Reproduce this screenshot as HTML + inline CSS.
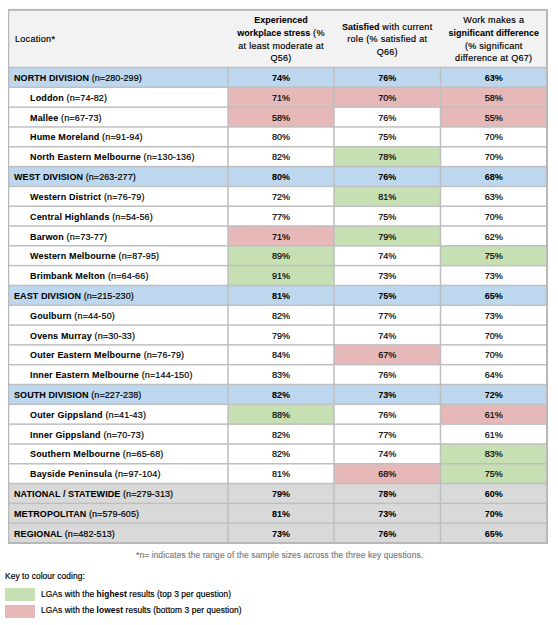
<!DOCTYPE html><html><head><meta charset="utf-8"><style>html,body{margin:0;padding:0;background:#fff;width:558px;height:625px;overflow:hidden}
body{position:relative;font-family:"Liberation Sans",sans-serif;color:#000}
.t{-webkit-text-stroke:0.18px #000}
.t b{-webkit-text-stroke:0.05px #000}
svg{position:absolute;left:0;top:0}
.t{position:absolute;white-space:nowrap;font-size:9px;line-height:12px}
.c{text-align:center}
b{font-weight:bold}
.r{letter-spacing:0.3px}
.r b{letter-spacing:0}
.ft{position:absolute;white-space:nowrap;color:#7a7a7a;font-size:8.4px;line-height:10px;letter-spacing:0.12px;-webkit-text-stroke:0.15px #7a7a7a}
.lg{position:absolute;white-space:nowrap;font-size:8.4px;line-height:12px;color:#000;letter-spacing:0.08px;-webkit-text-stroke:0.18px #000}
.lg b{-webkit-text-stroke:0}
</style></head><body><svg width="558" height="625" viewBox="0 0 558 625"><rect x="8.5" y="10" width="538.5" height="57.5" fill="#f2f2f2"/><rect x="8.5" y="67.500" width="219.5" height="19.812" fill="#bdd7ee"/><rect x="228" y="67.500" width="106" height="19.812" fill="#bdd7ee"/><rect x="334" y="67.500" width="106.5" height="19.812" fill="#bdd7ee"/><rect x="440.5" y="67.500" width="106.5" height="19.812" fill="#bdd7ee"/><rect x="8.5" y="87.312" width="219.5" height="19.812" fill="#ffffff"/><rect x="228" y="87.312" width="106" height="19.812" fill="#e6b8b7"/><rect x="334" y="87.312" width="106.5" height="19.812" fill="#e6b8b7"/><rect x="440.5" y="87.312" width="106.5" height="19.812" fill="#e6b8b7"/><rect x="8.5" y="107.125" width="219.5" height="19.812" fill="#ffffff"/><rect x="228" y="107.125" width="106" height="19.812" fill="#e6b8b7"/><rect x="334" y="107.125" width="106.5" height="19.812" fill="#ffffff"/><rect x="440.5" y="107.125" width="106.5" height="19.812" fill="#e6b8b7"/><rect x="8.5" y="126.938" width="219.5" height="19.812" fill="#ffffff"/><rect x="228" y="126.938" width="106" height="19.812" fill="#ffffff"/><rect x="334" y="126.938" width="106.5" height="19.812" fill="#ffffff"/><rect x="440.5" y="126.938" width="106.5" height="19.812" fill="#ffffff"/><rect x="8.5" y="146.750" width="219.5" height="19.812" fill="#ffffff"/><rect x="228" y="146.750" width="106" height="19.812" fill="#ffffff"/><rect x="334" y="146.750" width="106.5" height="19.812" fill="#c6e0b4"/><rect x="440.5" y="146.750" width="106.5" height="19.812" fill="#ffffff"/><rect x="8.5" y="166.562" width="219.5" height="19.812" fill="#bdd7ee"/><rect x="228" y="166.562" width="106" height="19.812" fill="#bdd7ee"/><rect x="334" y="166.562" width="106.5" height="19.812" fill="#bdd7ee"/><rect x="440.5" y="166.562" width="106.5" height="19.812" fill="#bdd7ee"/><rect x="8.5" y="186.375" width="219.5" height="19.812" fill="#ffffff"/><rect x="228" y="186.375" width="106" height="19.812" fill="#ffffff"/><rect x="334" y="186.375" width="106.5" height="19.812" fill="#c6e0b4"/><rect x="440.5" y="186.375" width="106.5" height="19.812" fill="#ffffff"/><rect x="8.5" y="206.188" width="219.5" height="19.812" fill="#ffffff"/><rect x="228" y="206.188" width="106" height="19.812" fill="#ffffff"/><rect x="334" y="206.188" width="106.5" height="19.812" fill="#ffffff"/><rect x="440.5" y="206.188" width="106.5" height="19.812" fill="#ffffff"/><rect x="8.5" y="226.000" width="219.5" height="19.812" fill="#ffffff"/><rect x="228" y="226.000" width="106" height="19.812" fill="#e6b8b7"/><rect x="334" y="226.000" width="106.5" height="19.812" fill="#c6e0b4"/><rect x="440.5" y="226.000" width="106.5" height="19.812" fill="#ffffff"/><rect x="8.5" y="245.812" width="219.5" height="19.812" fill="#ffffff"/><rect x="228" y="245.812" width="106" height="19.812" fill="#c6e0b4"/><rect x="334" y="245.812" width="106.5" height="19.812" fill="#ffffff"/><rect x="440.5" y="245.812" width="106.5" height="19.812" fill="#c6e0b4"/><rect x="8.5" y="265.625" width="219.5" height="19.812" fill="#ffffff"/><rect x="228" y="265.625" width="106" height="19.812" fill="#c6e0b4"/><rect x="334" y="265.625" width="106.5" height="19.812" fill="#ffffff"/><rect x="440.5" y="265.625" width="106.5" height="19.812" fill="#ffffff"/><rect x="8.5" y="285.438" width="219.5" height="19.812" fill="#bdd7ee"/><rect x="228" y="285.438" width="106" height="19.812" fill="#bdd7ee"/><rect x="334" y="285.438" width="106.5" height="19.812" fill="#bdd7ee"/><rect x="440.5" y="285.438" width="106.5" height="19.812" fill="#bdd7ee"/><rect x="8.5" y="305.250" width="219.5" height="19.812" fill="#ffffff"/><rect x="228" y="305.250" width="106" height="19.812" fill="#ffffff"/><rect x="334" y="305.250" width="106.5" height="19.812" fill="#ffffff"/><rect x="440.5" y="305.250" width="106.5" height="19.812" fill="#ffffff"/><rect x="8.5" y="325.062" width="219.5" height="19.812" fill="#ffffff"/><rect x="228" y="325.062" width="106" height="19.812" fill="#ffffff"/><rect x="334" y="325.062" width="106.5" height="19.812" fill="#ffffff"/><rect x="440.5" y="325.062" width="106.5" height="19.812" fill="#ffffff"/><rect x="8.5" y="344.875" width="219.5" height="19.812" fill="#ffffff"/><rect x="228" y="344.875" width="106" height="19.812" fill="#ffffff"/><rect x="334" y="344.875" width="106.5" height="19.812" fill="#e6b8b7"/><rect x="440.5" y="344.875" width="106.5" height="19.812" fill="#ffffff"/><rect x="8.5" y="364.688" width="219.5" height="19.812" fill="#ffffff"/><rect x="228" y="364.688" width="106" height="19.812" fill="#ffffff"/><rect x="334" y="364.688" width="106.5" height="19.812" fill="#ffffff"/><rect x="440.5" y="364.688" width="106.5" height="19.812" fill="#ffffff"/><rect x="8.5" y="384.500" width="219.5" height="19.812" fill="#bdd7ee"/><rect x="228" y="384.500" width="106" height="19.812" fill="#bdd7ee"/><rect x="334" y="384.500" width="106.5" height="19.812" fill="#bdd7ee"/><rect x="440.5" y="384.500" width="106.5" height="19.812" fill="#bdd7ee"/><rect x="8.5" y="404.312" width="219.5" height="19.812" fill="#ffffff"/><rect x="228" y="404.312" width="106" height="19.812" fill="#c6e0b4"/><rect x="334" y="404.312" width="106.5" height="19.812" fill="#ffffff"/><rect x="440.5" y="404.312" width="106.5" height="19.812" fill="#e6b8b7"/><rect x="8.5" y="424.125" width="219.5" height="19.812" fill="#ffffff"/><rect x="228" y="424.125" width="106" height="19.812" fill="#ffffff"/><rect x="334" y="424.125" width="106.5" height="19.812" fill="#ffffff"/><rect x="440.5" y="424.125" width="106.5" height="19.812" fill="#ffffff"/><rect x="8.5" y="443.938" width="219.5" height="19.812" fill="#ffffff"/><rect x="228" y="443.938" width="106" height="19.812" fill="#ffffff"/><rect x="334" y="443.938" width="106.5" height="19.812" fill="#ffffff"/><rect x="440.5" y="443.938" width="106.5" height="19.812" fill="#c6e0b4"/><rect x="8.5" y="463.750" width="219.5" height="19.812" fill="#ffffff"/><rect x="228" y="463.750" width="106" height="19.812" fill="#ffffff"/><rect x="334" y="463.750" width="106.5" height="19.812" fill="#e6b8b7"/><rect x="440.5" y="463.750" width="106.5" height="19.812" fill="#c6e0b4"/><rect x="8.5" y="483.562" width="219.5" height="19.812" fill="#d9d9d9"/><rect x="228" y="483.562" width="106" height="19.812" fill="#d9d9d9"/><rect x="334" y="483.562" width="106.5" height="19.812" fill="#d9d9d9"/><rect x="440.5" y="483.562" width="106.5" height="19.812" fill="#d9d9d9"/><rect x="8.5" y="503.375" width="219.5" height="19.812" fill="#d9d9d9"/><rect x="228" y="503.375" width="106" height="19.812" fill="#d9d9d9"/><rect x="334" y="503.375" width="106.5" height="19.812" fill="#d9d9d9"/><rect x="440.5" y="503.375" width="106.5" height="19.812" fill="#d9d9d9"/><rect x="8.5" y="523.188" width="219.5" height="19.812" fill="#d9d9d9"/><rect x="228" y="523.188" width="106" height="19.812" fill="#d9d9d9"/><rect x="334" y="523.188" width="106.5" height="19.812" fill="#d9d9d9"/><rect x="440.5" y="523.188" width="106.5" height="19.812" fill="#d9d9d9"/><rect x="8.5" y="66.750" width="538.5" height="1.5" fill="#bfbfbf"/><rect x="8.5" y="86.562" width="538.5" height="1.5" fill="#bfbfbf"/><rect x="8.5" y="106.375" width="538.5" height="1.5" fill="#bfbfbf"/><rect x="8.5" y="126.188" width="538.5" height="1.5" fill="#bfbfbf"/><rect x="8.5" y="146.000" width="538.5" height="1.5" fill="#bfbfbf"/><rect x="8.5" y="165.812" width="538.5" height="1.5" fill="#bfbfbf"/><rect x="8.5" y="185.625" width="538.5" height="1.5" fill="#bfbfbf"/><rect x="8.5" y="205.438" width="538.5" height="1.5" fill="#bfbfbf"/><rect x="8.5" y="225.250" width="538.5" height="1.5" fill="#bfbfbf"/><rect x="8.5" y="245.062" width="538.5" height="1.5" fill="#bfbfbf"/><rect x="8.5" y="264.875" width="538.5" height="1.5" fill="#bfbfbf"/><rect x="8.5" y="284.688" width="538.5" height="1.5" fill="#bfbfbf"/><rect x="8.5" y="304.500" width="538.5" height="1.5" fill="#bfbfbf"/><rect x="8.5" y="324.312" width="538.5" height="1.5" fill="#bfbfbf"/><rect x="8.5" y="344.125" width="538.5" height="1.5" fill="#bfbfbf"/><rect x="8.5" y="363.938" width="538.5" height="1.5" fill="#bfbfbf"/><rect x="8.5" y="383.750" width="538.5" height="1.5" fill="#bfbfbf"/><rect x="8.5" y="403.562" width="538.5" height="1.5" fill="#bfbfbf"/><rect x="8.5" y="423.375" width="538.5" height="1.5" fill="#bfbfbf"/><rect x="8.5" y="443.188" width="538.5" height="1.5" fill="#bfbfbf"/><rect x="8.5" y="463.000" width="538.5" height="1.5" fill="#bfbfbf"/><rect x="8.5" y="482.812" width="538.5" height="1.5" fill="#bfbfbf"/><rect x="8.5" y="502.625" width="538.5" height="1.5" fill="#bfbfbf"/><rect x="8.5" y="522.438" width="538.5" height="1.5" fill="#bfbfbf"/><rect x="227.250" y="67.500" width="1.5" height="475.500" fill="#bfbfbf"/><rect x="333.250" y="67.500" width="1.5" height="475.500" fill="#bfbfbf"/><rect x="439.750" y="67.500" width="1.5" height="475.500" fill="#bfbfbf"/><rect x="8" y="8.9" width="540" height="2" fill="#b8b8b8"/><rect x="8" y="542" width="540" height="2" fill="#b8b8b8"/><rect x="8" y="9" width="1.25" height="535" fill="#b8b8b8"/><rect x="546" y="9" width="2" height="535" fill="#b8b8b8"/></svg><div class="t r" style="left:15px;top:33px">Location*</div><div class="t c r" style="left:228.0px;width:106.0px;top:14px"><b>Experienced</b></div><div class="t c r" style="left:228.0px;width:106.0px;top:26.67px"><b>workplace stress</b> (%</div><div class="t c r" style="left:228.0px;width:106.0px;top:40px">at least moderate at</div><div class="t c r" style="left:228.0px;width:106.0px;top:52px">Q56)</div><div class="t c r" style="left:334.0px;width:106.5px;top:20.5px"><b>Satisfied</b> with current</div><div class="t c r" style="left:334.0px;width:106.5px;top:32.5px">role (% satisfied at</div><div class="t c r" style="left:334.0px;width:106.5px;top:45.5px">Q66)</div><div class="t c r" style="left:440.5px;width:106.5px;top:14px">Work makes a</div><div class="t c r" style="left:440.5px;width:106.5px;top:26.67px"><b>significant difference</b></div><div class="t c r" style="left:440.5px;width:106.5px;top:40px">(% significant</div><div class="t c r" style="left:440.5px;width:106.5px;top:52px">difference at Q67)</div><div class="t" style="left:14px;top:72.00px;letter-spacing:0.08px"><b>NORTH DIVISION</b> (n=280-299)</div><div class="t c" style="left:228.0px;width:106.0px;top:72.00px"><b>74%</b></div><div class="t c" style="left:334.0px;width:106.5px;top:72.00px"><b>76%</b></div><div class="t c" style="left:440.5px;width:106.5px;top:72.00px"><b>63%</b></div><div class="t" style="left:30px;top:91.81px;letter-spacing:0.15px"><b>Loddon</b> (n=74-82)</div><div class="t c" style="left:228.0px;width:106.0px;top:91.81px">71%</div><div class="t c" style="left:334.0px;width:106.5px;top:91.81px">70%</div><div class="t c" style="left:440.5px;width:106.5px;top:91.81px">58%</div><div class="t" style="left:30px;top:111.62px;letter-spacing:0.15px"><b>Mallee</b> (n=67-73)</div><div class="t c" style="left:228.0px;width:106.0px;top:111.62px">58%</div><div class="t c" style="left:334.0px;width:106.5px;top:111.62px">76%</div><div class="t c" style="left:440.5px;width:106.5px;top:111.62px">55%</div><div class="t" style="left:30px;top:131.44px;letter-spacing:0.15px"><b>Hume Moreland</b> (n=91-94)</div><div class="t c" style="left:228.0px;width:106.0px;top:131.44px">80%</div><div class="t c" style="left:334.0px;width:106.5px;top:131.44px">75%</div><div class="t c" style="left:440.5px;width:106.5px;top:131.44px">70%</div><div class="t" style="left:30px;top:151.25px;letter-spacing:0.15px"><b>North Eastern Melbourne</b> (n=130-136)</div><div class="t c" style="left:228.0px;width:106.0px;top:151.25px">82%</div><div class="t c" style="left:334.0px;width:106.5px;top:151.25px">78%</div><div class="t c" style="left:440.5px;width:106.5px;top:151.25px">70%</div><div class="t" style="left:14px;top:171.06px;letter-spacing:0.08px"><b>WEST DIVISION</b> (n=263-277)</div><div class="t c" style="left:228.0px;width:106.0px;top:171.06px"><b>80%</b></div><div class="t c" style="left:334.0px;width:106.5px;top:171.06px"><b>76%</b></div><div class="t c" style="left:440.5px;width:106.5px;top:171.06px"><b>68%</b></div><div class="t" style="left:30px;top:190.88px;letter-spacing:0.15px"><b>Western District</b> (n=76-79)</div><div class="t c" style="left:228.0px;width:106.0px;top:190.88px">72%</div><div class="t c" style="left:334.0px;width:106.5px;top:190.88px">81%</div><div class="t c" style="left:440.5px;width:106.5px;top:190.88px">63%</div><div class="t" style="left:30px;top:210.69px;letter-spacing:0.15px"><b>Central Highlands</b> (n=54-56)</div><div class="t c" style="left:228.0px;width:106.0px;top:210.69px">77%</div><div class="t c" style="left:334.0px;width:106.5px;top:210.69px">75%</div><div class="t c" style="left:440.5px;width:106.5px;top:210.69px">70%</div><div class="t" style="left:30px;top:230.50px;letter-spacing:0.15px"><b>Barwon</b> (n=73-77)</div><div class="t c" style="left:228.0px;width:106.0px;top:230.50px">71%</div><div class="t c" style="left:334.0px;width:106.5px;top:230.50px">79%</div><div class="t c" style="left:440.5px;width:106.5px;top:230.50px">62%</div><div class="t" style="left:30px;top:250.31px;letter-spacing:0.15px"><b>Western Melbourne</b> (n=87-95)</div><div class="t c" style="left:228.0px;width:106.0px;top:250.31px">89%</div><div class="t c" style="left:334.0px;width:106.5px;top:250.31px">74%</div><div class="t c" style="left:440.5px;width:106.5px;top:250.31px">75%</div><div class="t" style="left:30px;top:270.12px;letter-spacing:0.15px"><b>Brimbank Melton</b> (n=64-66)</div><div class="t c" style="left:228.0px;width:106.0px;top:270.12px">91%</div><div class="t c" style="left:334.0px;width:106.5px;top:270.12px">73%</div><div class="t c" style="left:440.5px;width:106.5px;top:270.12px">73%</div><div class="t" style="left:14px;top:289.94px;letter-spacing:0.08px"><b>EAST DIVISION</b> (n=215-230)</div><div class="t c" style="left:228.0px;width:106.0px;top:289.94px"><b>81%</b></div><div class="t c" style="left:334.0px;width:106.5px;top:289.94px"><b>75%</b></div><div class="t c" style="left:440.5px;width:106.5px;top:289.94px"><b>65%</b></div><div class="t" style="left:30px;top:309.75px;letter-spacing:0.15px"><b>Goulburn</b> (n=44-50)</div><div class="t c" style="left:228.0px;width:106.0px;top:309.75px">82%</div><div class="t c" style="left:334.0px;width:106.5px;top:309.75px">77%</div><div class="t c" style="left:440.5px;width:106.5px;top:309.75px">73%</div><div class="t" style="left:30px;top:329.56px;letter-spacing:0.15px"><b>Ovens Murray</b> (n=30-33)</div><div class="t c" style="left:228.0px;width:106.0px;top:329.56px">79%</div><div class="t c" style="left:334.0px;width:106.5px;top:329.56px">74%</div><div class="t c" style="left:440.5px;width:106.5px;top:329.56px">70%</div><div class="t" style="left:30px;top:349.38px;letter-spacing:0.15px"><b>Outer Eastern Melbourne</b> (n=76-79)</div><div class="t c" style="left:228.0px;width:106.0px;top:349.38px">84%</div><div class="t c" style="left:334.0px;width:106.5px;top:349.38px">67%</div><div class="t c" style="left:440.5px;width:106.5px;top:349.38px">70%</div><div class="t" style="left:30px;top:369.19px;letter-spacing:0.15px"><b>Inner Eastern Melbourne</b> (n=144-150)</div><div class="t c" style="left:228.0px;width:106.0px;top:369.19px">83%</div><div class="t c" style="left:334.0px;width:106.5px;top:369.19px">76%</div><div class="t c" style="left:440.5px;width:106.5px;top:369.19px">64%</div><div class="t" style="left:14px;top:389.00px;letter-spacing:0.08px"><b>SOUTH DIVISION</b> (n=227-238)</div><div class="t c" style="left:228.0px;width:106.0px;top:389.00px"><b>82%</b></div><div class="t c" style="left:334.0px;width:106.5px;top:389.00px"><b>73%</b></div><div class="t c" style="left:440.5px;width:106.5px;top:389.00px"><b>72%</b></div><div class="t" style="left:30px;top:408.81px;letter-spacing:0.15px"><b>Outer Gippsland</b> (n=41-43)</div><div class="t c" style="left:228.0px;width:106.0px;top:408.81px">88%</div><div class="t c" style="left:334.0px;width:106.5px;top:408.81px">76%</div><div class="t c" style="left:440.5px;width:106.5px;top:408.81px">61%</div><div class="t" style="left:30px;top:428.62px;letter-spacing:0.15px"><b>Inner Gippsland</b> (n=70-73)</div><div class="t c" style="left:228.0px;width:106.0px;top:428.62px">82%</div><div class="t c" style="left:334.0px;width:106.5px;top:428.62px">77%</div><div class="t c" style="left:440.5px;width:106.5px;top:428.62px">61%</div><div class="t" style="left:30px;top:448.44px;letter-spacing:0.15px"><b>Southern Melbourne</b> (n=65-68)</div><div class="t c" style="left:228.0px;width:106.0px;top:448.44px">82%</div><div class="t c" style="left:334.0px;width:106.5px;top:448.44px">74%</div><div class="t c" style="left:440.5px;width:106.5px;top:448.44px">83%</div><div class="t" style="left:30px;top:468.25px;letter-spacing:0.15px"><b>Bayside Peninsula</b> (n=97-104)</div><div class="t c" style="left:228.0px;width:106.0px;top:468.25px">81%</div><div class="t c" style="left:334.0px;width:106.5px;top:468.25px">68%</div><div class="t c" style="left:440.5px;width:106.5px;top:468.25px">75%</div><div class="t" style="left:14px;top:488.06px;letter-spacing:0.08px"><b>NATIONAL / STATEWIDE</b> (n=279-313)</div><div class="t c" style="left:228.0px;width:106.0px;top:488.06px"><b>79%</b></div><div class="t c" style="left:334.0px;width:106.5px;top:488.06px"><b>78%</b></div><div class="t c" style="left:440.5px;width:106.5px;top:488.06px"><b>60%</b></div><div class="t" style="left:14px;top:507.88px;letter-spacing:0.08px"><b>METROPOLITAN</b> (n=579-605)</div><div class="t c" style="left:228.0px;width:106.0px;top:507.88px"><b>81%</b></div><div class="t c" style="left:334.0px;width:106.5px;top:507.88px"><b>73%</b></div><div class="t c" style="left:440.5px;width:106.5px;top:507.88px"><b>70%</b></div><div class="t" style="left:14px;top:527.69px;letter-spacing:0.08px"><b>REGIONAL</b> (n=482-513)</div><div class="t c" style="left:228.0px;width:106.0px;top:527.69px"><b>73%</b></div><div class="t c" style="left:334.0px;width:106.5px;top:527.69px"><b>76%</b></div><div class="t c" style="left:440.5px;width:106.5px;top:527.69px"><b>65%</b></div><div class="ft" style="left:136px;top:550px">*n= indicates the range of the sample sizes across the three key questions.</div><div class="lg" style="left:5px;top:570px">Key to colour coding:</div><div style="position:absolute;left:5px;top:588px;width:30px;height:13px;background:#c6e0b4"></div><div style="position:absolute;left:5px;top:605px;width:30px;height:13px;background:#e6b8b7"></div><div class="lg" style="left:41px;top:588px">LGAs with the <b>highest</b> results (top 3 per question)</div><div class="lg" style="left:41px;top:604px">LGAs with the <b>lowest</b> results (bottom 3 per question)</div></body></html>
